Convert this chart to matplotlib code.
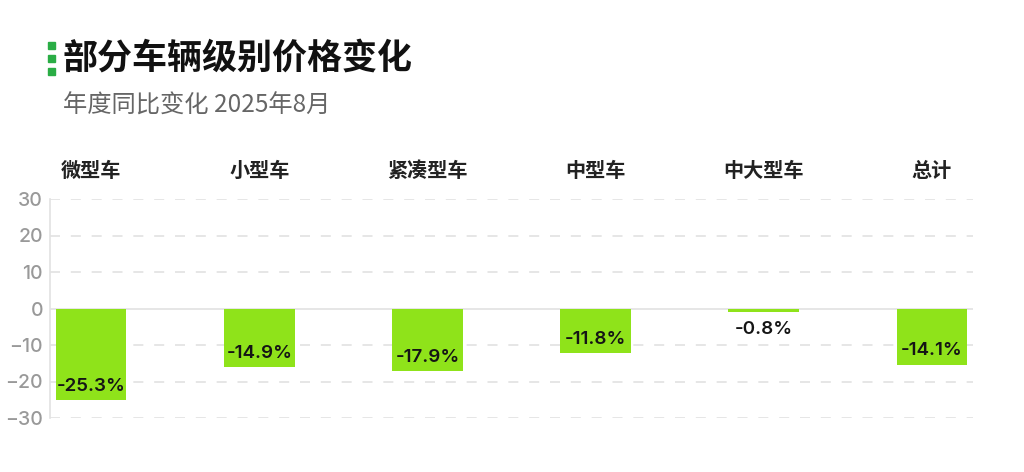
import matplotlib
matplotlib.use("Agg")
import matplotlib.pyplot as plt
from matplotlib.patches import Rectangle
from matplotlib.ticker import FixedLocator

plt.rcParams['font.family'] = ['Noto Sans CJK SC', 'DejaVu Sans']

# data
categories = ['微型车', '小型车', '紧凑型车', '中型车', '中大型车', '总计']
bar_heights = [-25.1, -16.1, -17.1, -12.2, -0.9, -15.4]   # drawn bar lengths
yoy_values = [-25.3, -14.9, -17.9, -11.8, -0.8, -14.1]    # printed labels
y_ticks = [-30, -20, -10, 0, 10, 20, 30]

BAR_COLOR = '#8fe31a'
GRID_COLOR = '#e2e2e2'
NUM_FONT = ['Inter', 'DejaVu Sans']

fig = plt.figure(figsize=(10.24, 4.72), dpi=100)
ax = fig.add_axes([50 / 1024, 1 - 418 / 472, 923 / 1024, 219 / 472])

x = list(range(len(categories)))
ax.bar(x, bar_heights, width=0.42, color=BAR_COLOR, zorder=3)

ax.set_xlim(-0.245, len(categories) - 1 + 0.245)
ax.set_ylim(-30, 30)

# grid: dashed lines, solid zero line
ax.yaxis.set_major_locator(FixedLocator(y_ticks))
for t in y_ticks:
    if t == 0:
        ax.axhline(0, color=GRID_COLOR, lw=1.2, zorder=2)
    else:
        ax.axhline(t, color=GRID_COLOR, lw=1.2, ls=(0, (6, 6.5)), zorder=1)

for side in ['top', 'right', 'bottom']:
    ax.spines[side].set_visible(False)
ax.spines['left'].set_color(GRID_COLOR)
ax.spines['left'].set_linewidth(1.2)

ax.tick_params(axis='y', length=0, pad=5, labelsize=14, labelcolor='#999999')
for lbl in ax.get_yticklabels():
    lbl.set_family(NUM_FONT)
    lbl.set_fontweight('medium')

# category names on top
ax.xaxis.tick_top()
ax.set_xticks(x)
ax.set_xticklabels(categories, fontsize=14.5, fontweight='bold', color='#222222')
ax.tick_params(axis='x', length=0, pad=13)

# value labels: inside the bar bottom, or below a short bar
for xi, h, v in zip(x, bar_heights, yoy_values):
    dy = 10 if abs(h) > 5 else -13
    ax.annotate(f'{v:.1f}%', (xi, h), xytext=(0, dy), textcoords='offset points',
                ha='center', va='center', fontsize=13.5, color='#151515',
                fontweight='semibold', family=NUM_FONT, zorder=4)

# title block
for top in [42, 55, 68]:
    fig.patches.append(Rectangle((48 / 1024, 1 - (top + 7) / 472), 7 / 1024, 7 / 472,
                                 transform=fig.transFigure, color='#2aad45'))
fig.text(63 / 1024, 1 - 58 / 472, '部分车辆级别价格变化', fontsize=25.2,
         fontweight='bold', color='#111111', va='center', ha='left')
fig.text(63 / 1024, 1 - 106 / 472, '年度同比变化 2025年8月', fontsize=17.5,
         fontweight='medium', color='#666666', va='center', ha='left')

fig.savefig('out.png', dpi=100)
